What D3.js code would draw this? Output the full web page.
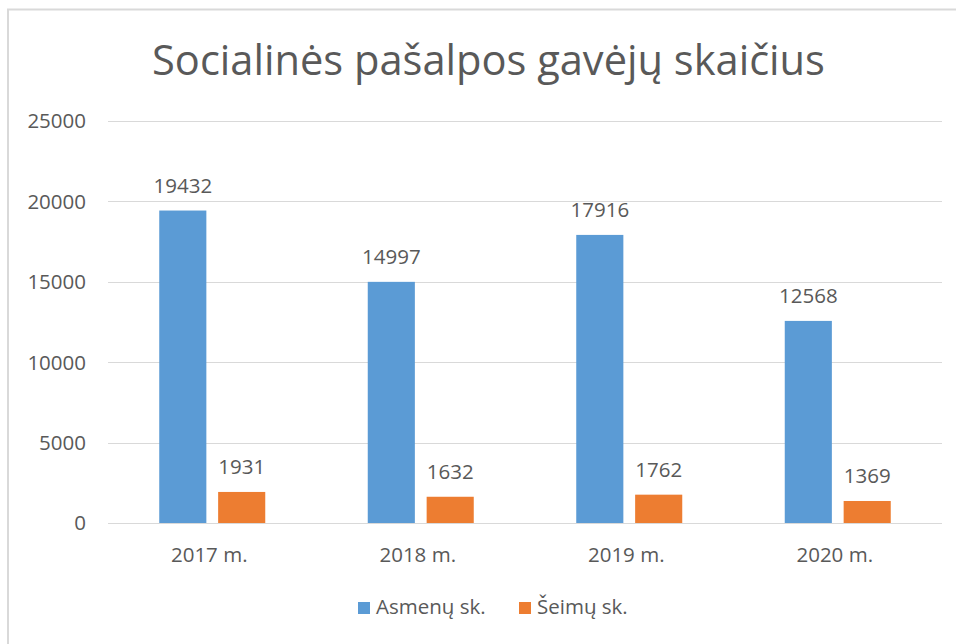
<!DOCTYPE html>
<html>
<head>
<meta charset="utf-8">
<script src="https://cdn.jsdelivr.net/npm/d3@7"></script>
<style>
  body { margin: 0; background: #fff; }
  text { font-family: "Open Sans", sans-serif; fill: #595959; }
</style>
</head>
<body>
<div id="grafikas"></div>
<script>
var kategorijos = ["2017 m.", "2018 m.", "2019 m.", "2020 m."];
var serijos = ["Asmenų sk.", "Šeimų sk."];
var asmenu = [19432, 14997, 17916, 12568];
var seimu = [1931, 1632, 1762, 1369];
var yTikai = [0, 5000, 10000, 15000, 20000, 25000];
var spalvos = ["#5B9BD5", "#ED7D31"];

var width = 956, height = 644;
var kairė = 108, dešinė = 942, viršus = 121, apačia = 523;

var svg = d3.select("#grafikas").append("svg")
  .attr("width", width).attr("height", height);

// rėmelis (išeina už paveikslo ribų dešinėje ir apačioje)
svg.append("rect")
  .attr("x", 8).attr("y", 9.5)
  .attr("width", 1000).attr("height", 700)
  .attr("fill", "#fff")
  .attr("stroke", "#d9d9d9").attr("stroke-width", 2);

var y = d3.scaleLinear().domain([0, 25000]).range([apačia, viršus]);
var x0 = d3.scaleBand().domain(kategorijos).range([kairė, dešinė]);
var x1 = d3.scaleBand().domain(serijos).range([-53, 53]).paddingInner(0.2);

// tinklelis
svg.append("g").selectAll("line")
  .data(yTikai).enter().append("line")
  .attr("x1", kairė).attr("x2", dešinė)
  .attr("y1", function(d){ return Math.round(y(d)) + 0.5; })
  .attr("y2", function(d){ return Math.round(y(d)) + 0.5; })
  .attr("stroke", "#d9d9d9").attr("stroke-width", 1);

// y ašies žymės
svg.append("g").selectAll("text")
  .data(yTikai).enter().append("text")
  .attr("x", 86).attr("y", function(d){ return y(d); })
  .attr("dy", "0.36em")
  .attr("text-anchor", "end")
  .style("font-size", "20.5px")
  .text(function(d){ return d; });

// kategorijų žymės
svg.append("g").selectAll("text")
  .data(kategorijos).enter().append("text")
  .attr("x", function(d){ return x0(d) + x0.bandwidth() / 2 - 3; })
  .attr("y", 562)
  .attr("text-anchor", "middle")
  .style("font-size", "20.5px")
  .text(function(d){ return d; });

var eilutės = kategorijos.map(function(k, i){
  return [
    { kat: k, ser: serijos[0], v: asmenu[i], c: spalvos[0] },
    { kat: k, ser: serijos[1], v: seimu[i], c: spalvos[1] }
  ];
});

var grupės = svg.append("g").selectAll("g")
  .data(eilutės).enter().append("g")
  .attr("transform", function(d){ return "translate(" + (x0(d[0].kat) + x0.bandwidth() / 2) + ",0)"; });

grupės.selectAll("rect")
  .data(function(d){ return d; }).enter().append("rect")
  .attr("x", function(d){ return x1(d.ser); })
  .attr("width", x1.bandwidth())
  .attr("y", function(d){ return y(d.v); })
  .attr("height", function(d){ return apačia - y(d.v); })
  .attr("fill", function(d){ return d.c; });

grupės.selectAll("text")
  .data(function(d){ return d; }).enter().append("text")
  .attr("x", function(d){ return x1(d.ser) + x1.bandwidth() / 2; })
  .attr("y", function(d){ return y(d.v) - 17.5; })
  .attr("text-anchor", "middle")
  .style("font-size", "20.5px")
  .text(function(d){ return d.v; });

// pavadinimas
var pav = svg.append("text")
  .attr("x", 488.5).attr("y", 75)
  .attr("text-anchor", "middle")
  .style("font-size", "40px")
  .text("Socialinės pašalpos gavėjų skaičius");
var ilgis = pav.node().getComputedTextLength();
pav.style("font-size", (40 * 673 / ilgis) + "px");

// legenda
var legenda = svg.append("g");
var lx = [358, 519];
serijos.forEach(function(s, i){
  legenda.append("rect")
    .attr("x", lx[i]).attr("y", 602)
    .attr("width", 12).attr("height", 12)
    .attr("fill", spalvos[i]);
  legenda.append("text")
    .attr("x", lx[i] + 18).attr("y", 613.5)
    .style("font-size", "20.5px")
    .text(s);
});
</script>
</body>
</html>
